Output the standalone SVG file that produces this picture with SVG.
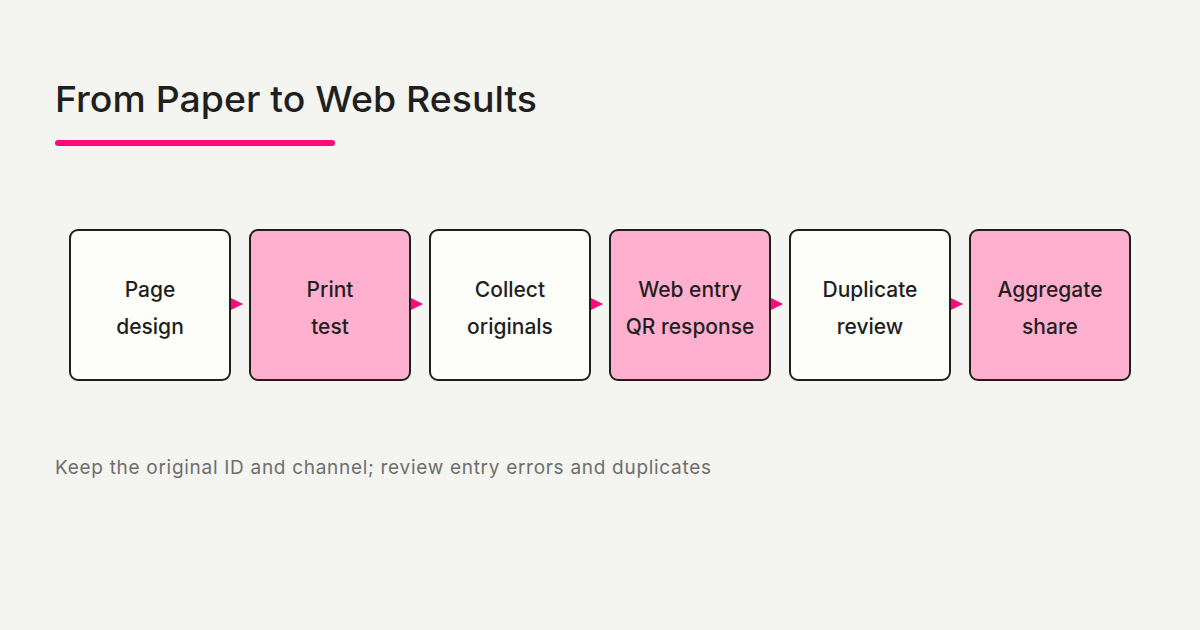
<svg xmlns="http://www.w3.org/2000/svg" width="1200" height="630" viewBox="0 0 1200 630">
<style>
text{font-family:Inter,"Liberation Sans",sans-serif;fill:#1f1f1f}
.box{stroke:#1f1f1f;stroke-width:2}
.w{fill:#fdfdfa}.p{fill:#ffb0cf}
.lbl{font-size:21px;text-anchor:middle;font-weight:500}
.c{stroke:#ff0a78;stroke-width:2}
</style>
<defs><marker id="ah" viewBox="0 0 12 12" refX="11" refY="6" markerWidth="12" markerHeight="12" markerUnits="userSpaceOnUse" orient="auto"><path d="M0,0 L12,6 L0,12Z" fill="#ff0a78"/></marker></defs>
<rect width="1200" height="630" fill="#f4f4f0"/>
<text x="55" y="112" font-size="36" font-weight="500" textLength="482" lengthAdjust="spacingAndGlyphs">From Paper to Web Results</text>
<line x1="58" y1="143" x2="332" y2="143" stroke="#ff0a78" stroke-width="6" stroke-linecap="round"/>
<g id="connectors">
<line class="c" x1="231" y1="304" x2="242" y2="304" marker-end="url(#ah)"/>
<line class="c" x1="411" y1="304" x2="422" y2="304" marker-end="url(#ah)"/>
<line class="c" x1="591" y1="304" x2="602" y2="304" marker-end="url(#ah)"/>
<line class="c" x1="771" y1="304" x2="782" y2="304" marker-end="url(#ah)"/>
<line class="c" x1="951" y1="304" x2="962" y2="304" marker-end="url(#ah)"/>
</g>
<g id="n1"><rect class="box w" x="70" y="230" width="160" height="150" rx="8"/><text class="lbl" x="150" y="297">Page</text><text class="lbl" x="150" y="334">design</text></g>
<g id="n2"><rect class="box p" x="250" y="230" width="160" height="150" rx="8"/><text class="lbl" x="330" y="297">Print</text><text class="lbl" x="330" y="334">test</text></g>
<g id="n3"><rect class="box w" x="430" y="230" width="160" height="150" rx="8"/><text class="lbl" x="510" y="297">Collect</text><text class="lbl" x="510" y="334">originals</text></g>
<g id="n4"><rect class="box p" x="610" y="230" width="160" height="150" rx="8"/><text class="lbl" x="690" y="297">Web entry</text><text class="lbl" x="690" y="334">QR response</text></g>
<g id="n5"><rect class="box w" x="790" y="230" width="160" height="150" rx="8"/><text class="lbl" x="870" y="297">Duplicate</text><text class="lbl" x="870" y="334">review</text></g>
<g id="n6"><rect class="box p" x="970" y="230" width="160" height="150" rx="8"/><text class="lbl" x="1050" y="297">Aggregate</text><text class="lbl" x="1050" y="334">share</text></g>
<text x="55" y="474" font-size="19" textLength="656" lengthAdjust="spacing" style="fill:#6e6e6e">Keep the original ID and channel; review entry errors and duplicates</text>
</svg>
